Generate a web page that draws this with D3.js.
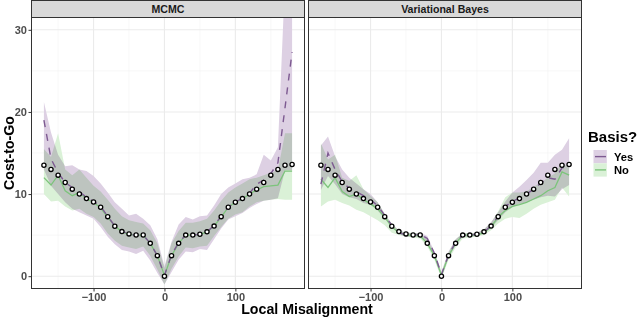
<!DOCTYPE html>
<html>
<head>
<meta charset="utf-8">
<script src="https://cdn.jsdelivr.net/npm/d3@7"></script>
<style>
body { margin: 0; background: #fff; }
svg { display: block; font-family: "Liberation Sans", Arial, sans-serif; }
</style>
</head>
<body>
<svg width="640" height="318"></svg>
<script>
// x positions (local misalignment, degrees)
var misalign = [-170,-160,-150,-140,-130,-120,-110,-100,-90,-80,-70,-60,-50,-40,-30,-20,-10,0,
                10,20,30,40,50,60,70,80,90,100,110,120,130,140,150,160,170,180];

// true cost-to-go (open circles), same in both panels
var truth = [13.5,13.0,12.3,11.4,10.6,10.0,9.45,9.04,8.4,7.25,6.08,5.43,5.15,5.02,5.02,4.0,2.5,0,
             2.5,4.0,5.0,5.0,5.1,5.4,6.1,7.25,8.4,9.0,9.45,10.0,10.6,11.4,12.3,13.0,13.5,13.6];

// MCMC panel
var mcmcYes   = [19.0,14.3,12.6,11.4,10.8,10.3,9.6,9.1,8.5,7.3,6.1,5.5,5.1,5.0,5.0,4.0,2.5,0.1,
                 2.6,4.1,5.0,5.0,5.1,5.4,6.2,7.3,8.4,9.0,9.5,10.1,11.2,11.7,12.5,13.8,20.5,27.3];
var mcmcYesHi = [21.2,17.5,14.8,13.4,13.5,13.0,12.8,12.2,11.3,10.2,9.0,8.2,7.4,7.6,7.0,6.2,4.5,1.2,
                 4.2,6.3,7.2,6.9,7.3,7.4,8.6,10.0,10.8,11.3,11.8,12.0,12.4,14.8,14.1,15.7,36,38];
var mcmcYesLo = [13.0,11.0,10.0,9.0,8.2,7.8,7.4,7.0,6.0,4.8,3.9,3.2,3.0,2.7,3.1,1.9,0.4,-1.0,
                 0.5,2.0,3.0,2.9,3.3,3.2,4.5,5.8,6.9,7.3,7.7,8.3,8.8,9.2,9.3,9.5,12.9,12.9];
var mcmcNo    = [12.0,11.1,12.3,10.4,9.8,10.2,9.4,9.0,8.3,7.2,6.1,5.4,5.1,5.0,5.0,4.0,2.5,0.1,
                 2.5,4.0,5.0,5.0,5.1,5.4,6.1,7.2,8.4,9.0,9.4,10.0,10.5,10.9,11.0,11.1,12.8,12.8];
var mcmcNoHi  = [15.5,14.5,17.4,13.0,12.3,13.0,12.0,11.0,10.3,9.3,8.2,7.3,6.8,6.6,6.4,5.6,4.0,1.0,
                 4.0,5.5,6.5,6.5,6.7,7.0,8.0,9.2,10.2,10.8,11.3,11.8,12.0,12.3,12.6,12.9,17.4,17.4];
var mcmcNoLo  = [10.0,9.1,9.2,8.5,8.0,8.2,7.6,7.2,6.4,5.2,4.3,3.7,3.5,3.3,3.6,2.5,0.8,-1.0,
                 0.9,2.4,3.5,3.4,3.6,3.7,4.9,6.0,7.0,7.5,7.8,8.5,9.0,9.2,9.3,9.4,9.3,9.3];

// Variational Bayes panel
var vbYes   = [11.2,15.0,13.0,11.5,10.7,10.3,9.8,9.3,8.6,7.4,6.2,5.3,5.0,5.0,5.1,4.6,2.8,0.2,
               2.6,4.1,5.0,5.0,5.1,5.4,6.1,7.3,8.5,9.1,9.5,10.0,10.6,11.3,12.0,11.8,13.2,13.3];
var vbYesHi = [15.9,17.0,14.6,13.0,12.0,11.3,10.6,10.0,9.0,7.6,6.3,5.6,5.3,5.2,5.3,4.9,3.0,0.5,
               3.0,4.5,5.2,5.2,5.3,5.7,6.6,7.8,9.1,10.2,10.9,11.7,12.6,13.8,13.8,14.8,15.4,16.8];
var vbYesLo = [10.5,12.2,11.2,10.0,9.6,9.4,8.9,8.7,8.0,7.0,6.0,5.1,4.8,4.8,4.8,4.2,2.4,-0.1,
               2.2,3.8,4.8,4.8,4.9,5.2,5.9,6.8,7.8,8.4,8.8,9.0,9.3,9.6,9.8,9.7,10.6,11.1];
var vbNo    = [11.8,10.8,12.0,10.3,9.7,10.0,9.3,8.8,8.2,7.2,6.0,5.3,5.0,5.0,4.9,4.0,2.5,0.1,
               2.5,4.0,5.0,5.0,5.0,5.3,6.0,7.2,8.0,8.5,8.7,9.0,9.4,9.8,10.4,10.8,12.7,12.3];
var vbNoHi  = [16.2,14.2,14.8,12.0,11.6,12.3,10.6,9.8,9.0,7.6,6.4,5.6,5.3,5.3,5.2,4.5,2.9,0.5,
               2.9,4.5,5.3,5.2,5.3,5.7,6.5,7.9,9.6,10.2,10.2,10.3,10.9,11.4,12.0,12.5,13.8,13.2];
var vbNoLo  = [8.5,9.1,9.3,8.9,8.6,8.1,7.8,7.3,6.8,6.2,5.3,5.0,4.8,4.7,4.6,3.6,2.0,-0.3,
               2.0,3.5,4.6,4.7,4.8,5.0,5.6,6.4,7.0,7.2,7.1,7.6,8.2,8.7,9.0,9.3,10.8,9.7];

var panelNames = ["MCMC", "Variational Bayes"];
var legendLabels = ["Yes", "No"];
var xTicks = [-100, 0, 100];
var yTicks = [0, 10, 20, 30];

function rows(mid, lo, hi) {
    return misalign.map(function(x, i) { return {x: x, y: mid[i], lo: lo[i], hi: hi[i]}; });
}

var panels = [
    {name: panelNames[0], left: 31.5,
     yes: rows(mcmcYes, mcmcYesLo, mcmcYesHi), no: rows(mcmcNo, mcmcNoLo, mcmcNoHi)},
    {name: panelNames[1], left: 308.5,
     yes: rows(vbYes, vbYesLo, vbYesHi), no: rows(vbNo, vbNoLo, vbNoHi)}
];

var purpleFill = "#ddd0e3", greenFill = "#daf1d7";
var purpleLine = "#7d5a91", greenLine = "#7cc47b";

var panelW = 273, panelTop = 17.5, panelBottom = 288.5;
var svg = d3.select("svg");

var y = d3.scaleLinear().domain([-1.5, 31.5]).range([panelBottom, panelTop]);

svg.append("defs").selectAll("clipPath").data(panels).enter()
    .append("clipPath").attr("id", function(d, i) { return "clip" + i; })
    .append("rect")
    .attr("x", function(d) { return d.left; }).attr("y", panelTop)
    .attr("width", panelW).attr("height", panelBottom - panelTop);

panels.forEach(function(p, i) {
    var x = d3.scaleLinear().domain([-187.5, 197.5]).range([p.left, p.left + panelW]);
    var g = svg.append("g");

    // background + grid
    g.append("rect").attr("x", p.left).attr("y", panelTop).attr("width", panelW)
        .attr("height", panelBottom - panelTop).attr("fill", "#fff");
    [-150, -50, 50, 150].forEach(function(v) {
        g.append("line").attr("x1", x(v)).attr("x2", x(v)).attr("y1", panelTop).attr("y2", panelBottom)
            .attr("stroke", "#f3f3f3").attr("stroke-width", 0.6);
    });
    [5, 15, 25].forEach(function(v) {
        g.append("line").attr("x1", p.left).attr("x2", p.left + panelW).attr("y1", y(v)).attr("y2", y(v))
            .attr("stroke", "#f3f3f3").attr("stroke-width", 0.6);
    });
    xTicks.forEach(function(v) {
        g.append("line").attr("x1", x(v)).attr("x2", x(v)).attr("y1", panelTop).attr("y2", panelBottom)
            .attr("stroke", "#ebebeb").attr("stroke-width", 1.1);
    });
    yTicks.forEach(function(v) {
        g.append("line").attr("x1", p.left).attr("x2", p.left + panelW).attr("y1", y(v)).attr("y2", y(v))
            .attr("stroke", "#ebebeb").attr("stroke-width", 1.1);
    });

    var area = d3.area()
        .x(function(d) { return x(d.x); })
        .y0(function(d) { return y(d.lo); })
        .y1(function(d) { return y(d.hi); });
    var line = d3.line()
        .x(function(d) { return x(d.x); })
        .y(function(d) { return y(d.y); });

    var data = g.append("g").attr("clip-path", "url(#clip" + i + ")");
    data.append("path").datum(p.yes).attr("d", area)
        .attr("fill", purpleFill).style("mix-blend-mode", "multiply");
    data.append("path").datum(p.no).attr("d", area)
        .attr("fill", greenFill).style("mix-blend-mode", "multiply");
    data.append("path").datum(p.no).attr("d", line)
        .attr("fill", "none").attr("stroke", greenLine).attr("stroke-width", 1.3);
    data.append("path").datum(p.yes).attr("d", line)
        .attr("fill", "none").attr("stroke", purpleLine).attr("stroke-width", 1.4)
        .attr("stroke-dasharray", "7,7");

    data.selectAll("circle").data(truth).enter().append("circle")
        .attr("cx", function(d, j) { return x(misalign[j]); })
        .attr("cy", function(d) { return y(d); })
        .attr("r", 2.1)
        .attr("fill", "#fff").attr("stroke", "#000").attr("stroke-width", 1.3);

    // panel border
    g.append("rect").attr("x", p.left).attr("y", panelTop).attr("width", panelW)
        .attr("height", panelBottom - panelTop).attr("fill", "none").attr("stroke", "#333");

    // strip
    g.append("rect").attr("x", p.left).attr("y", 0.5).attr("width", panelW).attr("height", panelTop - 0.5)
        .attr("fill", "#d9d9d9").attr("stroke", "#333");
    g.append("text").attr("x", p.left + panelW / 2).attr("y", 13.2)
        .attr("text-anchor", "middle").attr("font-size", 10.6).attr("font-weight", "bold")
        .attr("fill", "#1a1a1a").text(p.name);

    // x axis
    var xa = g.append("g").attr("transform", "translate(0," + panelBottom + ")")
        .call(d3.axisBottom(x).tickValues(xTicks).tickSize(3).tickPadding(1.5));
    xa.select(".domain").remove();
    xa.selectAll("line").attr("stroke", "#333");
    xa.selectAll("text").attr("fill", "#4d4d4d").attr("font-size", 11).attr("font-weight", "bold")
        .attr("font-family", "Liberation Sans, Arial, sans-serif");

    if (i === 0) {
        var ya = g.append("g").attr("transform", "translate(" + p.left + ",0)")
            .call(d3.axisLeft(y).tickValues(yTicks).tickSize(3).tickPadding(1.5));
        ya.select(".domain").remove();
        ya.selectAll("line").attr("stroke", "#333");
        ya.selectAll("text").attr("fill", "#4d4d4d").attr("font-size", 11).attr("font-weight", "bold")
            .attr("font-family", "Liberation Sans, Arial, sans-serif");
    }
});

// axis titles
svg.append("text").attr("x", 307).attr("y", 314).attr("text-anchor", "middle")
    .attr("font-size", 14.2).attr("font-weight", "bold").text("Local Misalignment");
svg.append("text").attr("transform", "translate(13.5," + ((panelTop + panelBottom) / 2) + ") rotate(-90)")
    .attr("text-anchor", "middle").attr("font-size", 14.2).attr("font-weight", "bold")
    .text("Cost-to-Go");

// legend
var leg = svg.append("g").attr("transform", "translate(588,0)");
leg.append("text").attr("x", 0).attr("y", 141.5).attr("font-size", 15).attr("font-weight", "bold")
    .text("Basis?");
var keyFills = [purpleFill, greenFill], keyLines = [purpleLine, greenLine];
legendLabels.forEach(function(lab, k) {
    var ky = 150 + k * 13.3;
    leg.append("rect").attr("x", 5.5).attr("y", ky).attr("width", 13.3).attr("height", 13.3)
        .attr("fill", keyFills[k]);
    leg.append("line").attr("x1", 7).attr("x2", 18).attr("y1", ky + 6.6).attr("y2", ky + 6.6)
        .attr("stroke", keyLines[k]).attr("stroke-width", 1.4);
    leg.append("text").attr("x", 26).attr("y", ky + 10.5).attr("font-size", 11.2)
        .attr("font-weight", "bold").text(lab);
});
</script>
</body>
</html>
